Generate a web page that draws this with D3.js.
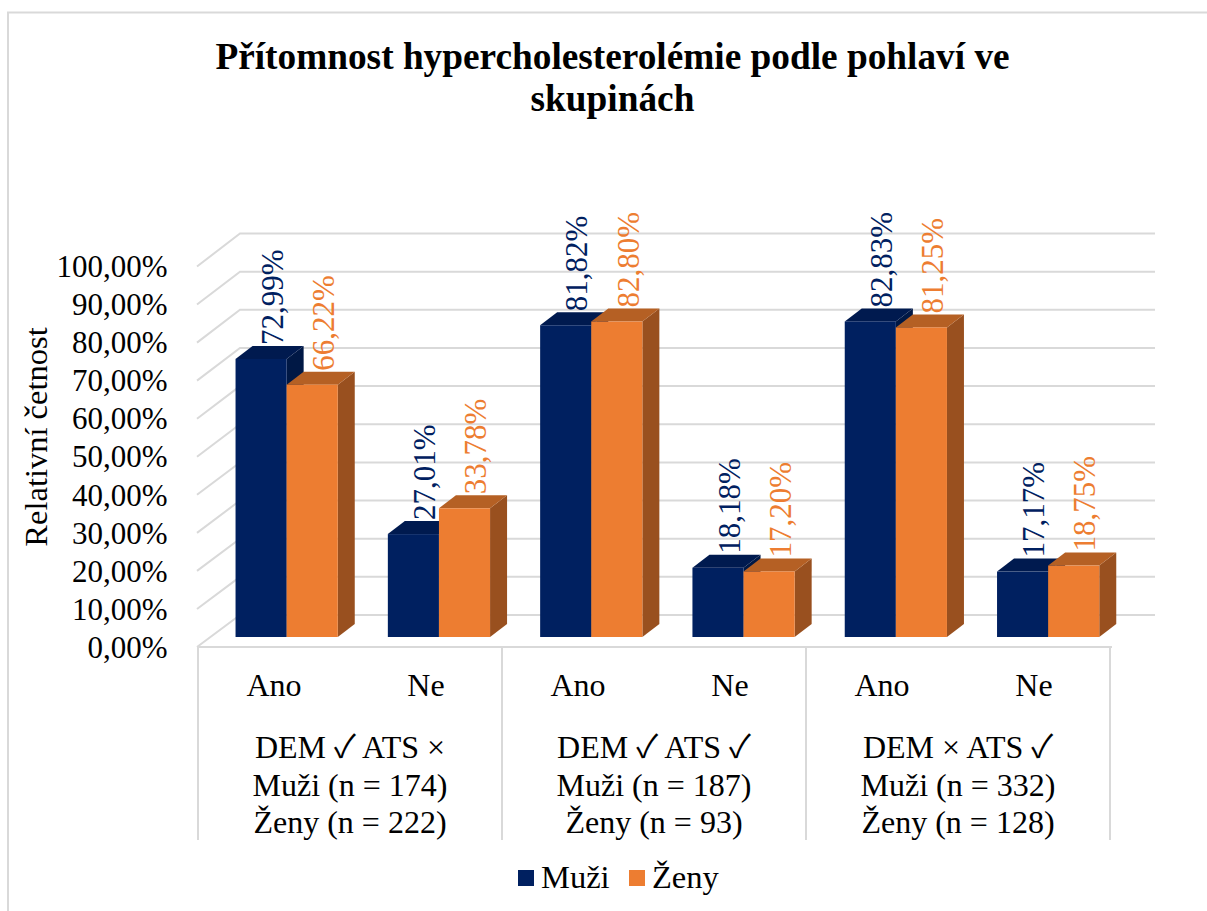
<!DOCTYPE html>
<html><head><meta charset="utf-8">
<script src="https://cdnjs.cloudflare.com/ajax/libs/d3/7.8.5/d3.min.js"></script>
<style>html,body{margin:0;padding:0;background:#fff}svg{display:block}text{font-family:"Liberation Serif","Noto Sans CJK JP",serif}</style>
</head><body><svg id="c" width="1207" height="911"></svg>
<script>
const titleLines = ["Přítomnost hypercholesterolémie podle pohlaví ve","skupinách"];
const yTitle = "Relativní četnost";
const categories = ["Ano","Ne","Ano","Ne","Ano","Ne"];
const groupLabels = [
  ["DEM ✓ ATS ×","Muži (n = 174)","Ženy (n = 222)"],
  ["DEM ✓ ATS ✓","Muži (n = 187)","Ženy (n = 93)"],
  ["DEM × ATS ✓","Muži (n = 332)","Ženy (n = 128)"]
];
const seriesNames = ["Muži","Ženy"];
const muzi = [72.99,27.01,81.82,18.18,82.83,17.17];
const zeny = [66.22,33.78,82.80,17.20,81.25,18.75];
const yTicks = [0,10,20,30,40,50,60,70,80,90,100];

const palette = {Muži:{front:"#002060",top:"#001A4F",side:"#001845",text:"#002060"},
                 Ženy:{front:"#ED7D31",top:"#B56024",side:"#99501F",text:"#ED7D31"}};
const gridC="#D9D9D9";
const svg=d3.select("#c");
const cs=d3.formatLocale({decimal:",",thousands:" ",grouping:[3],currency:["","%"]});
const fmt=cs.format(".2f");

svg.append("path").attr("d","M8,911V12.5H1207").attr("fill","none").attr("stroke",gridC).attr("stroke-width",2);

const yBack=d3.scaleLinear().domain([0,100]).range([615,233.5]);
const barD={dx:17,dy:13};
const yBar=d3.scaleLinear().domain([0,100]).range([637,637-381]);
const yFront=d3.scaleLinear().domain([0,100]).range([647,266.5]);
const x0=d3.scaleBand().domain(d3.range(categories.length)).range([198,1110]);
const xBar=d3.scaleBand().domain(d3.range(categories.length)).range([210.5,1124.3]);
const x1=d3.scaleBand().domain(seriesNames).range([0,xBar.bandwidth()]).paddingInner(0).paddingOuter(0.49);

const grid=svg.append("g").attr("stroke",gridC).attr("stroke-width",2).attr("fill","none");
yTicks.forEach(t=>{
  grid.append("path").attr("d",`M197,${yFront(t)}L240,${yBack(t)}H1155`);
});
grid.append("path").attr("d","M197,647H1112");
[0,2,4,6].forEach(i=>{
  const x=i<6?x0(i):x0(5)+x0.bandwidth();
  grid.append("line").attr("x1",x).attr("x2",x).attr("y1",647).attr("y2",840);
});

const series=[{n:"Muži",v:muzi},{n:"Ženy",v:zeny}];
const bars=svg.append("g");
categories.forEach((c,i)=>{
  series.forEach(s=>{
    const p=palette[s.n], x=xBar(i)+x1(s.n), w=x1.bandwidth(), v=s.v[i];
    const yt=yBar(v), yb=yBar(0), dx=barD.dx, dy=barD.dy;
    bars.append("path").attr("fill",p.side).attr("d",`M${x+w},${yt}L${x+w+dx},${yt-dy}V${yb-dy}L${x+w},${yb}Z`);
    bars.append("path").attr("fill",p.top).attr("d",`M${x},${yt}L${x+dx},${yt-dy}H${x+w+dx}L${x+w},${yt}Z`);
    bars.append("rect").attr("fill",p.front).attr("x",x).attr("y",yt).attr("width",w).attr("height",yb-yt);
  });
});
categories.forEach((c,i)=>{
  series.forEach(s=>{
    const x=xBar(i)+x1(s.n)+x1.bandwidth()/2+11.5, y=yBar(s.v[i])-barD.dy-1;
    svg.append("text").attr("transform",`translate(${x},${y}) rotate(-90)`)
      .attr("dy","0.33em").attr("font-size",31).attr("fill",palette[s.n].text).text(fmt(s.v[i])+"%");
  });
});

const axis=d3.axisLeft(yFront).tickValues(yTicks).tickSize(0).tickPadding(0).tickFormat(d=>fmt(d)+"%");
const ga=svg.append("g").attr("transform","translate(167.5,0)").call(axis);
ga.select(".domain").remove();
ga.selectAll("text").attr("font-size",31).attr("fill","#000").attr("dy","0.33em");
ga.attr("font-family",null);

svg.append("text").attr("transform","translate(47,437) rotate(-90)").attr("text-anchor","middle")
  .attr("font-size",32.5).attr("fill","#000").text(yTitle);

svg.selectAll(".t").data(titleLines).join("text").attr("class","t").attr("x",612.5).attr("y",(d,i)=>68.5+i*42)
  .attr("text-anchor","middle").attr("font-size",37.3).attr("font-weight","bold").attr("fill","#000").text(d=>d);

categories.forEach((c,i)=>{
  svg.append("text").attr("x",x0(i)+x0.bandwidth()/2).attr("y",696).attr("text-anchor","middle")
    .attr("font-size",32).attr("fill","#000").text(c);
});
groupLabels.forEach((g,i)=>{
  g.forEach((l,j)=>{
    svg.append("text").attr("x",x0(i*2)+x0.bandwidth()).attr("y",758+j*37.5).attr("text-anchor","middle")
      .attr("font-size",32).attr("fill","#000").text(l);
  });
});

const legX=[518,629];
seriesNames.forEach((n,i)=>{
  svg.append("rect").attr("x",legX[i]).attr("y",870).attr("width",16).attr("height",16).attr("fill",palette[n].front);
  svg.append("text").attr("x",legX[i]+23).attr("y",888).attr("font-size",32.5).attr("fill","#000").text(n);
});
</script></body></html>
